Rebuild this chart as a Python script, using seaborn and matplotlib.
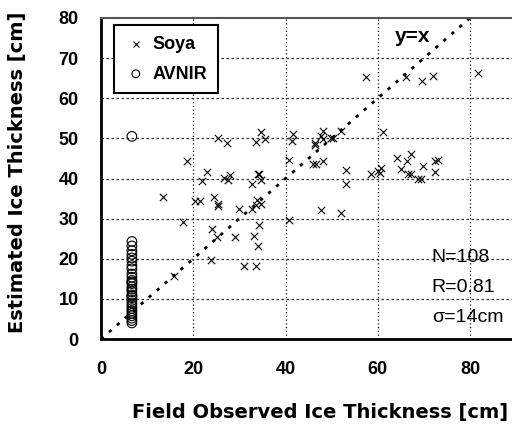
import numpy as np
import pandas as pd
import matplotlib
matplotlib.use("Agg")
import matplotlib.pyplot as plt
import seaborn as sns

# Soya points (field observed, estimated)
soya_x = [13.5, 18.6, 20.4, 21.5, 22.9, 22.0, 25.3, 27.3, 24.6, 25.3, 25.4, 26.7, 27.5, 28.0,
          29.9, 32.8, 32.8, 33.8, 34.7, 33.5, 34.0, 34.3, 34.6, 34.7, 33.6, 35.6, 41.7, 41.4,
          40.7, 17.7, 24.0, 25.1, 29.1, 34.3, 33.1, 34.0, 23.8, 31.1, 33.6, 15.9, 40.7, 57.4,
          66.1, 69.5, 71.9, 61.2, 48.1, 47.8, 48.1, 46.3, 46.3, 49.9, 50.3, 52.1, 45.9, 46.7,
          48.1, 53.2, 60.8, 64.1, 66.4, 67.3, 69.8, 72.4, 73.1, 53.2, 58.6, 60.1, 60.4, 65.0,
          66.6, 67.3, 68.8, 69.3, 72.4, 47.8, 52.0, 81.7]
soya_y = [35.4, 44.3, 34.3, 34.3, 41.7, 39.3, 50.0, 48.8, 35.3, 33.7, 33.2, 40.1, 39.7, 40.9,
          32.5, 38.75, 32.5, 34.75, 33.7, 33.5, 41.0, 41.0, 39.75, 51.7, 49.2, 49.75, 51.0, 49.3,
          44.6, 29.2, 27.5, 25.4, 25.3, 28.5, 25.75, 23.1, 19.75, 18.1, 18.25, 15.6, 29.6, 65.4,
          65.3, 64.3, 65.6, 51.6, 51.8, 50.6, 49.75, 48.9, 48.25, 50.0, 50.2, 51.8, 43.7, 43.7,
          44.3, 42.0, 42.7, 45.0, 44.3, 46.0, 43.1, 44.3, 44.6, 38.75, 41.0, 41.8, 41.4, 42.25,
          41.0, 41.0, 40.0, 40.0, 41.7, 32.1, 31.4, 66.4]

# AVNIR points
avnir_x = [6.7] * 30
avnir_y = [50.5, 24.3, 23.2, 22.0, 21.1, 20.2, 19.4, 18.3, 17.5, 16.2, 15.4, 14.6, 14.2, 13.8,
           13.0, 12.4, 11.8, 11.0, 10.7, 10.3, 9.6, 9.0, 8.3, 7.6, 7.0, 6.4, 5.8, 5.2, 4.6, 4.0]

x_ticks = [0, 20, 40, 60, 80]
y_ticks = [0, 10, 20, 30, 40, 50, 60, 70, 80]
stats_lines = ["N=108", "R=0.81", "σ=14cm"]

sns.set_style("white")
plt.rcParams['font.family'] = ['Liberation Sans', 'DejaVu Sans']
plt.rcParams.update({"text.color": "black", "axes.labelcolor": "black",
                     "xtick.color": "black", "ytick.color": "black"})

df = pd.concat([
    pd.DataFrame({"obs": soya_x, "est": soya_y, "src": "Soya"}),
    pd.DataFrame({"obs": avnir_x, "est": avnir_y, "src": "AVNIR"}),
])

fig = plt.figure(figsize=(5.12, 4.24), dpi=100)
ax = fig.add_axes([101/512, 85/424, 411/512, 321/424])

sns.scatterplot(data=df[df.src == "Soya"], x="obs", y="est", marker="x", color="black",
                s=28, linewidth=0.8, ax=ax, label="Soya", zorder=3)
sns.scatterplot(data=df[df.src == "AVNIR"], x="obs", y="est", marker="o", facecolor="none",
                edgecolor="black", s=48, linewidth=0.8, ax=ax, label="AVNIR", zorder=3)

ax.plot([0, 80], [0, 80], color="black", linestyle=(0, (1.2, 2.6)), linewidth=2.0, zorder=2)

ax.set_xlim(0, 89.1)
ax.set_ylim(0, 80)
ax.set_xticks(x_ticks)
ax.set_yticks(y_ticks)
ax.set_xticklabels([str(t) for t in x_ticks], fontweight="bold", fontsize=13)
ax.set_yticklabels([str(t) for t in y_ticks], fontweight="bold", fontsize=13)
ax.tick_params(axis="both", direction="in", length=4, width=1, color="black")
ax.tick_params(axis="x", pad=16)
ax.tick_params(axis="y", pad=16)

for v in [20, 40, 60, 80]:
    ax.axvline(v, color="black", linestyle=(0, (1, 2)), linewidth=0.9, zorder=1)
for v in [10, 20, 30, 40, 50, 60, 70]:
    ax.axhline(v, color="#333333", linestyle=(0, (2, 2)), linewidth=0.9, zorder=1)

ax.spines["right"].set_visible(False)
ax.spines["left"].set_linewidth(2)
ax.spines["bottom"].set_linewidth(2)
ax.spines["top"].set_linewidth(1.5)
ax.spines["top"].set_color("#555555")
for s in ["left", "bottom"]:
    ax.spines[s].set_color("black")

ax.set_xlabel("Field Observed Ice Thickness [cm]", fontweight="bold", fontsize=14,
              family=["DejaVu Sans"])
ax.set_ylabel("Estimated Ice Thickness [cm]", fontweight="bold", fontsize=14,
              family=["DejaVu Sans"])
ax.xaxis.set_label_coords(0.533, -0.20)
ax.yaxis.set_label_coords(-0.18, 0.52)

leg = ax.legend(loc="upper left", bbox_to_anchor=(0.032, 0.978), borderaxespad=0,
                frameon=True, fancybox=False,
                prop={"weight": "bold", "size": 13}, handletextpad=0.3, borderpad=0.6,
                labelspacing=0.7, handlelength=1.2, markerscale=0.8)
leg.get_frame().set_edgecolor("black")
leg.get_frame().set_linewidth(1.5)
leg.get_frame().set_alpha(1)

ax.text(67.5, 75.5, "y=x", fontsize=15, fontweight="bold", ha="center", va="center")
for i, t in enumerate(stats_lines):
    ax.text(71.7, 20.25 - i * 7.4, t, fontsize=14, ha="left", va="center")

fig.savefig("out.png", dpi=100)
